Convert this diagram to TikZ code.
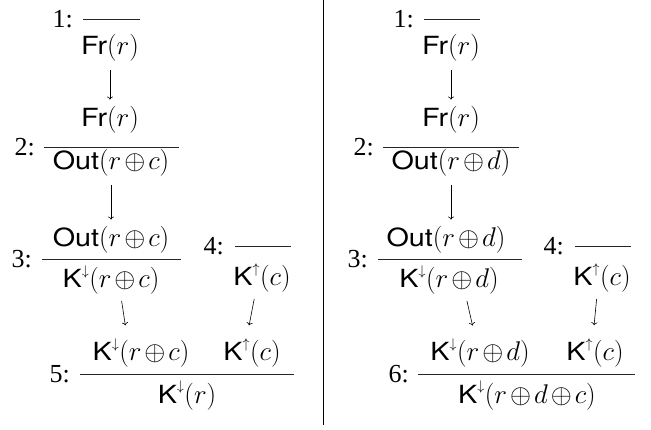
\RequirePackage{fix-cm}
\documentclass[tikz,border=0pt]{standalone}
\usepackage{fontspec}
\setmainfont{Liberation Serif}
\setsansfont[FakeStretch=1.15]{TeX Gyre Heros}
\usepackage{tikz}
\usetikzlibrary{arrows.meta,positioning}

% math sizes for the 26pt text of the picture
\DeclareMathSizes{26}{27}{14}{11}

\newcommand{\sfname}[1]{\textsf{\fontsize{25}{30}\selectfont #1}}
\newcommand{\Frs}{\sfname{Fr}}
\newcommand{\Outs}{\sfname{Out}}
\newcommand{\Kdn}{\sfname{K}^{\downarrow}}
\newcommand{\Kup}{\sfname{K}^{\uparrow}}

\tikzset{
  judg/.style={anchor=base, inner sep=2pt,
               execute at begin node={\medmuskip=2mu}},
  steplbl/.style={inner sep=0pt},
  rulebar/.style={line width=0.8pt, black!85},
  deriv/.style={-{To[length=3pt,width=6pt]}, line width=0.6pt,
                shorten <=6pt, shorten >=5pt},
  diag/.style={deriv, shorten <=4pt, shorten >=11pt}
}

\begin{document}
\begin{tikzpicture}[x=1pt, y=-1pt, font=\fontsize{26}{31}\selectfont]
  \useasboundingbox (0,0) rectangle (651,430);
  % divider
  \draw[line width=0.8pt] (323,0) -- (323,425);

  % ---- left derivation ----
  % step 1
  \coordinate (lb1) at (83,19);
  \draw[rulebar] (lb1) -- ++(57,0);
  \node[steplbl, left=10pt of lb1] {1:};
  \node[judg] (lc1) at (110,55) {$\Frs(r)$};
  % step 2
  \node[judg] (lp2) at (110,127) {$\Frs(r)$};
  \coordinate (lb2) at (44,147);
  \draw[rulebar] (lb2) -- ++(135,0);
  \node[steplbl, left=9pt of lb2] {2:};
  \node[judg] (lc2) at (111,170) {$\Outs(r \oplus c)$};
  % step 3
  \node[judg] (lp3) at (111,247) {$\Outs(r \oplus c)$};
  \coordinate (lb3) at (42,259);
  \draw[rulebar] (lb3) -- ++(139,0);
  \node[steplbl, left=10pt of lb3] {3:};
  \node[judg] (lc3) at (111,288) {$\Kdn(r \oplus c)$};
  % step 4
  \coordinate (lb4) at (235,246);
  \draw[rulebar] (lb4) -- ++(56,0);
  \node[steplbl, left=11pt of lb4] {4:};
  \node[judg] (lc4) at (262,286) {$\Kup(c)$};
  % step 5
  \node[judg] (lp5a) at (141,361) {$\Kdn(r \oplus c)$};
  \node[judg] (lp5b) at (252,361) {$\Kup(c)$};
  \coordinate (lb5) at (80,374);
  \draw[rulebar] (lb5) -- ++(214,0);
  \node[steplbl, left=10pt of lb5] {5:};
  \node[judg] (lc5) at (187,403) {$\Kdn(r)$};
  % arrows
  \draw[deriv] (lc1.south) -- (lc1.south |- lp2.north);
  \draw[deriv] (lc2.south) -- (lc2.south |- lp3.north);
  \draw[diag] ([xshift=10pt]lc3.south) -- ([xshift=-14pt]lp5a.north);
  \draw[diag] ([xshift=-7pt]lc4.south) -- ([xshift=-5pt]lp5b.north);

  % ---- right derivation ----
  % step 1
  \coordinate (rb1) at (424,19);
  \draw[rulebar] (rb1) -- ++(56,0);
  \node[steplbl, left=10pt of rb1] {1:};
  \node[judg] (rc1) at (451,55) {$\Frs(r)$};
  % step 2
  \node[judg] (rp2) at (451,127) {$\Frs(r)$};
  \coordinate (rb2) at (383,147);
  \draw[rulebar] (rb2) -- ++(136,0);
  \node[steplbl, left=9pt of rb2] {2:};
  \node[judg] (rc2) at (451,170) {$\Outs(r \oplus d)$};
  % step 3
  \node[judg] (rp3) at (446,247) {$\Outs(r \oplus d)$};
  \coordinate (rb3) at (378,259);
  \draw[rulebar] (rb3) -- ++(144,0);
  \node[steplbl, left=10pt of rb3] {3:};
  \node[judg] (rc3) at (449,288) {$\Kdn(r \oplus d)$};
  % step 4
  \coordinate (rb4) at (575,246);
  \draw[rulebar] (rb4) -- ++(56,0);
  \node[steplbl, left=11pt of rb4] {4:};
  \node[judg] (rc4) at (602,286) {$\Kup(c)$};
  % step 6
  \node[judg] (rp6a) at (480,361) {$\Kdn(r \oplus d)$};
  \node[judg] (rp6b) at (595,361) {$\Kup(c)$};
  \coordinate (rb6) at (418,374);
  \draw[rulebar] (rb6) -- ++(217,0);
  \node[steplbl, left=9pt of rb6] {6:};
  \node[judg] (rc6) at (527,403) {$\Kdn(r \oplus d \oplus c)$};
  % arrows
  \draw[deriv] (rc1.south) -- (rc1.south |- rp2.north);
  \draw[deriv] (rc2.south) -- (rc2.south |- rp3.north);
  \draw[diag] ([xshift=17pt]rc3.south) -- ([xshift=-5pt]rp6a.north);
  \draw[diag] ([xshift=-5pt]rc4.south) -- ([xshift=-2pt]rp6b.north);
\end{tikzpicture}
\end{document}
